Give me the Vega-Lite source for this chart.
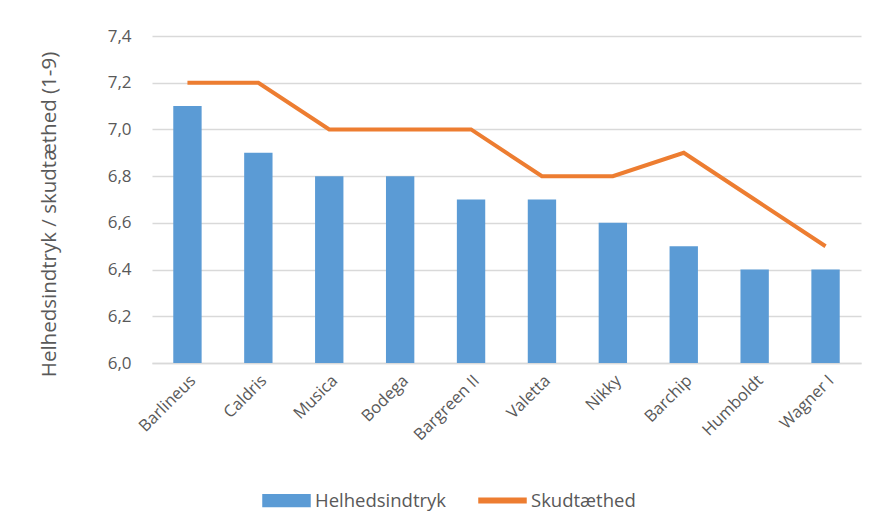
{
  "$schema": "https://vega.github.io/schema/vega-lite/v6.json",
  "width": 709,
  "height": 327,
  "autosize": {"type": "none"},
  "padding": {"left": 152, "top": 36, "right": 8, "bottom": 165},
  "background": "white",
  "config": {
    "view": {"stroke": null},
    "font": "Open Sans"
  },
  "data": {
    "values": [
      {"sort": "Barlineus", "Helhedsindtryk": 7.1, "Skudtaethed": 7.2},
      {"sort": "Caldris", "Helhedsindtryk": 6.9, "Skudtaethed": 7.2},
      {"sort": "Musica", "Helhedsindtryk": 6.8, "Skudtaethed": 7.0},
      {"sort": "Bodega", "Helhedsindtryk": 6.8, "Skudtaethed": 7.0},
      {"sort": "Bargreen II", "Helhedsindtryk": 6.7, "Skudtaethed": 7.0},
      {"sort": "Valetta", "Helhedsindtryk": 6.7, "Skudtaethed": 6.8},
      {"sort": "Nikky", "Helhedsindtryk": 6.6, "Skudtaethed": 6.8},
      {"sort": "Barchip", "Helhedsindtryk": 6.5, "Skudtaethed": 6.9},
      {"sort": "Humboldt", "Helhedsindtryk": 6.4, "Skudtaethed": 6.7},
      {"sort": "Wagner I", "Helhedsindtryk": 6.4, "Skudtaethed": 6.5}
    ]
  },
  "encoding": {
    "x": {
      "field": "sort",
      "type": "nominal",
      "sort": null,
      "scale": {"paddingInner": 0.6, "paddingOuter": 0.3},
      "axis": {
        "title": null,
        "labelAngle": -45,
        "labelFontSize": 16.5,
        "labelColor": "#595959",
        "labelPadding": 9,
        "ticks": false,
        "domain": true,
        "domainColor": "#d9d9d9",
        "domainWidth": 1.5
      }
    }
  },
  "layer": [
    {
      "mark": {"type": "bar", "clip": true},
      "encoding": {
        "y": {
          "field": "Helhedsindtryk",
          "type": "quantitative",
          "scale": {"domain": [6, 7.4], "zero": false, "nice": false},
          "axis": {
            "title": "Helhedsindtryk / skudtæthed (1-9)",
            "titleFontSize": 20.5,
            "titleFontWeight": "normal",
            "titleColor": "#595959",
            "titlePadding": 48,
            "titleY": 178,
            "values": [6, 6.2, 6.4, 6.6, 6.8, 7.0, 7.2, 7.4],
            "labelExpr": "replace(format(datum.value, '.1f'), '.', ',')",
            "labelFontSize": 17,
            "labelColor": "#595959",
            "labelPadding": 21,
            "ticks": false,
            "domain": false,
            "gridColor": "#d9d9d9",
            "gridWidth": 1.5
          }
        },
        "y2": {"datum": 6},
        "color": {
          "datum": "Helhedsindtryk",
          "scale": {"domain": ["Helhedsindtryk", "Skudtæthed"], "range": ["#5B9BD5", "#ED7D31"]},
          "legend": {
            "title": null,
            "orient": "none",
            "direction": "horizontal",
            "legendX": 110,
            "legendY": 440,
            "labelFontSize": 18.5,
            "labelColor": "#595959",
            "labelOffset": 4,
            "columnPadding": 29,
            "symbolSize": 2209,
            "symbolType": "M-1,-0.25H1V0.25H-1Z",
            "encode": {
              "symbols": {
                "update": {
                  "shape": {"signal": "datum.value === 'Helhedsindtryk' ? 'M-1,-0.25H1V0.25H-1Z' : 'M-1,-0.1H1V0.1H-1Z'"},
                  "fill": {"signal": "datum.value === 'Helhedsindtryk' ? '#5B9BD5' : '#ED7D31'"},
                  "stroke": {"value": "transparent"},
                  "opacity": {"value": 1},
                  "fillOpacity": {"value": 1}
                }
              }
            }
          }
        }
      }
    },
    {
      "mark": {"type": "line", "strokeWidth": 4},
      "encoding": {
        "y": {"field": "Skudtaethed", "type": "quantitative"},
        "color": {"datum": "Skudtæthed"}
      }
    }
  ]
}
